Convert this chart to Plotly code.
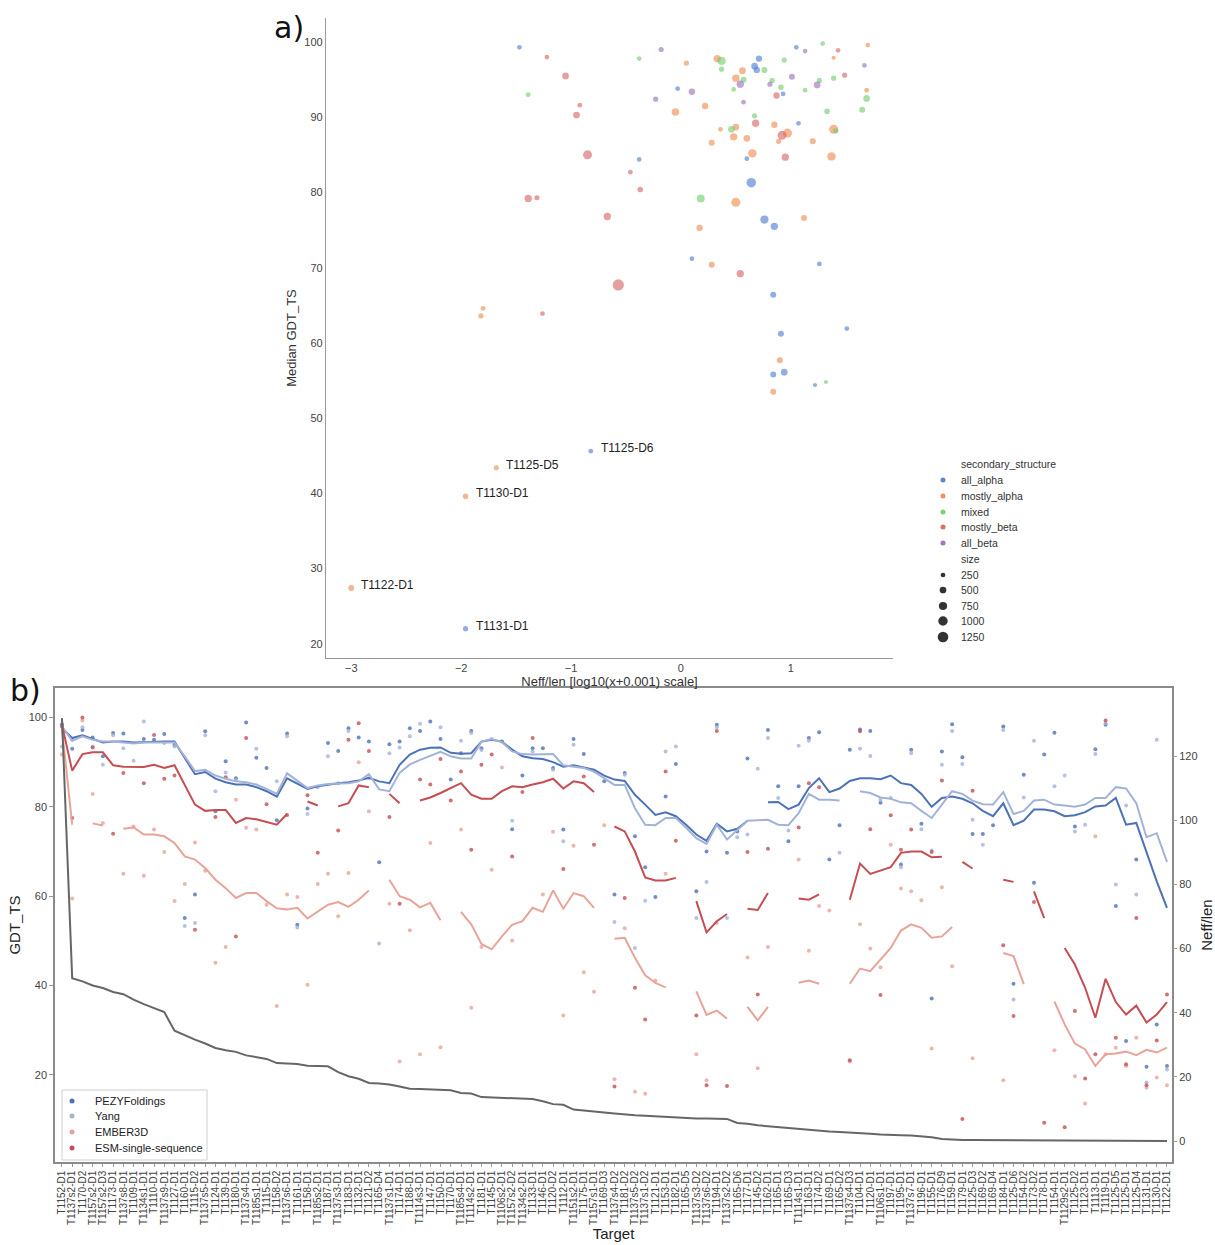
import math
import plotly.graph_objects as go

W, H = 1215, 1245
def px(x): return x / W
def py(y): return 1 - y / H

# ---------------- Panel a data ----------------
ss_order = ["all_alpha", "mostly_alpha", "mixed", "mostly_beta", "all_beta"]
ss_colors = {"all_alpha": "#4878d0", "mostly_alpha": "#ee854a", "mixed": "#6acc64",
             "mostly_beta": "#d65f5f", "all_beta": "#956cb4"}

neff_log = [-1.47, -1.22, -1.05, -1.39, -0.92, -0.95, -0.85, -0.38, -0.46, -0.37,
            -1.39, -1.31, -0.67, -0.57, -1.80, -1.82, -1.26, -0.38, -0.18, -0.23,
            0.05, -0.03, 0.10, -0.05, 0.22, 0.33, 0.37, 0.37, 0.50, 0.56,
            0.57, 0.54, 0.48, 0.57, 0.67, 0.69, 0.71, 0.76, 0.81, 0.83,
            0.91, 0.93, 0.87, 0.94, 1.01, 1.05, 1.13, 1.29, 1.43, 1.39,
            1.26, 1.24, 1.13, 1.39, 1.49, 1.67, 1.70, 1.69, 1.69, 1.65,
            1.33, 0.67, 0.68, 0.85, 1.07, 0.36, 0.46, 0.50, 0.48, 0.60,
            0.92, 0.97, 0.89, 0.28, 1.20, 1.39, 1.41, 0.65, 0.60, 0.95,
            1.37, 0.64, 0.18, 0.50, 0.76, 0.85, 0.17, 1.12, 0.10, 0.28,
            0.54, 1.26, 0.84, 0.91, 1.51, 0.90, 0.84, 0.94, 0.84, 1.22,
            1.32, -0.82, -1.68, -1.96, -3.00, -1.96]
median_gdt = [99.3, 98.0, 95.5, 93.0, 91.6, 90.3, 85.0, 84.4, 82.7, 80.4,
              79.2, 79.3, 76.8, 67.7, 64.6, 63.6, 63.9, 97.8, 99.0, 92.4,
              97.2, 93.8, 93.4, 90.7, 91.5, 97.8, 97.5, 96.4, 95.2, 96.2,
              95.0, 94.4, 93.7, 92.0, 96.8, 96.3, 97.8, 96.3, 94.4, 94.9,
              94.0, 93.1, 92.9, 97.6, 95.4, 99.3, 98.8, 99.8, 98.9, 97.9,
              94.9, 94.3, 93.6, 95.2, 95.6, 96.9, 99.6, 93.6, 92.5, 91.0,
              90.8, 90.2, 89.2, 89.0, 89.2, 88.4, 88.4, 88.7, 87.4, 87.2,
              87.6, 87.9, 86.8, 86.6, 86.8, 88.4, 88.2, 85.2, 84.5, 84.7,
              84.8, 81.3, 79.2, 78.7, 76.4, 75.5, 75.3, 76.6, 71.2, 70.4,
              69.2, 70.5, 66.4, 61.2, 61.9, 57.7, 55.8, 56.1, 53.5, 54.4,
              54.8, 45.6, 43.4, 39.6, 27.4, 22.0]
sec_struct = ["all_alpha", "mostly_beta", "mostly_beta", "mixed", "mostly_beta", "mostly_beta", "mostly_beta", "all_alpha", "mostly_beta", "mostly_beta",
              "mostly_beta", "mostly_beta", "mostly_beta", "mostly_beta", "mostly_alpha", "mostly_alpha", "mostly_beta", "mixed", "all_beta", "all_beta",
              "mostly_alpha", "all_alpha", "all_beta", "mostly_alpha", "mostly_alpha", "mostly_alpha", "mixed", "mixed", "mostly_alpha", "mostly_alpha",
              "mixed", "all_beta", "mixed", "all_beta", "all_alpha", "all_alpha", "all_alpha", "mixed", "all_beta", "mixed",
              "mixed", "all_alpha", "mostly_beta", "mixed", "all_beta", "all_alpha", "all_beta", "mixed", "mostly_beta", "mostly_alpha",
              "mixed", "all_beta", "mixed", "mixed", "mostly_beta", "all_beta", "mostly_alpha", "mostly_alpha", "mixed", "mixed",
              "mixed", "mixed", "mostly_beta", "mostly_alpha", "all_alpha", "mostly_alpha", "mixed", "mostly_alpha", "mostly_alpha", "mostly_alpha",
              "mostly_beta", "mostly_alpha", "mostly_alpha", "mostly_alpha", "mostly_alpha", "mostly_alpha", "mixed", "mostly_alpha", "all_alpha", "mostly_beta",
              "mostly_alpha", "all_alpha", "mixed", "mostly_alpha", "all_alpha", "all_alpha", "mostly_alpha", "mostly_alpha", "all_alpha", "mostly_alpha",
              "mostly_beta", "all_alpha", "all_alpha", "all_alpha", "all_alpha", "mostly_alpha", "all_alpha", "all_alpha", "mostly_alpha", "all_alpha",
              "mixed", "all_alpha", "mostly_alpha", "mostly_alpha", "mostly_alpha", "all_alpha"]
dom_size = [250, 250, 500, 250, 250, 500, 900, 250, 250, 350,
            600, 300, 600, 1400, 250, 300, 250, 250, 300, 300,
            300, 250, 450, 650, 450, 600, 800, 300, 600, 500,
            400, 600, 250, 250, 500, 450, 450, 400, 300, 300,
            350, 250, 450, 300, 400, 250, 250, 250, 250, 200,
            300, 500, 250, 300, 300, 250, 250, 250, 500, 400,
            350, 300, 600, 450, 250, 250, 500, 500, 600, 500,
            900, 900, 300, 400, 400, 900, 300, 800, 250, 600,
            800, 1000, 700, 900, 750, 600, 450, 400, 250, 400,
            600, 250, 400, 400, 250, 400, 400, 500, 400, 200,
            200, 250, 300, 350, 400, 300]
point_labels = [""] * 101 + ["T1125-D6", "T1125-D5", "T1130-D1", "T1122-D1", "T1131-D1"]

legend_sizes = [250, 500, 750, 1000, 1250]

# ---------------- Panel b data ----------------
targets = ["T1152-D1", "T1137s2-D1", "T1170-D2", "T1157s2-D1", "T1157s2-D3", "T1173-D1", "T1137s8-D1", "T1109-D1", "T1134s1-D1", "T1110-D1",
           "T1137s9-D1", "T1127-D1", "T1160-D1", "T1115-D2", "T1137s5-D1", "T1124-D1", "T1139-D1", "T1180-D1", "T1137s4-D1", "T1185s1-D1",
           "T1115-D1", "T1158-D2", "T1137s6-D1", "T1161-D1", "T1158-D1", "T1185s2-D1", "T1187-D1", "T1137s3-D1", "T1183-D1", "T1132-D1",
           "T1121-D2", "T1165-D4", "T1137s1-D1", "T1174-D1", "T1188-D1", "T1114s3-D1", "T1147-D1", "T1150-D1", "T1170-D1", "T1185s4-D1",
           "T1114s2-D1", "T1181-D1", "T1145-D1", "T1106s2-D1", "T1157s2-D2", "T1134s2-D1", "T1133-D1", "T1146-D1", "T1120-D2", "T1112-D1",
           "T1151s2-D1", "T1175-D1", "T1157s1-D1", "T1169-D3", "T1137s4-D2", "T1181-D2", "T1137s5-D2", "T1137s1-D2", "T1121-D1", "T1153-D1",
           "T1182-D1", "T1165-D5", "T1137s3-D2", "T1137s6-D2", "T1194-D1", "T1137s2-D2", "T1165-D6", "T1177-D1", "T1145-D2", "T1162-D1",
           "T1165-D1", "T1165-D3", "T1114s1-D1", "T1163-D1", "T1174-D2", "T1169-D1", "T1165-D2", "T1137s4-D3", "T1104-D1", "T1120-D1",
           "T1106s1-D1", "T1197-D1", "T1195-D1", "T1137s7-D1", "T1196-D1", "T1155-D1", "T1176-D9", "T1159-D1", "T1179-D1", "T1125-D3",
           "T1169-D2", "T1169-D4", "T1184-D1", "T1125-D6", "T1154-D2", "T1173-D2", "T1178-D1", "T1154-D1", "T1129s2-D1", "T1125-D2",
           "T1123-D1", "T1113-D1", "T1119-D1", "T1125-D5", "T1125-D1", "T1125-D4", "T1131-D1", "T1130-D1", "T1122-D1"]

N = None
pezy_pts = [98.5, 93.0, 97.2, 95.5, 91.3, 96.5, 96.4, N, 95.2, 95.0,
            96.3, 93.9, 55.1, 60.4, 96.9, 79.0, 90.2, 86.4, 98.9, 91.0,
            88.7, 77.0, 96.4, 53.6, 79.6, N, 94.3, 92.5, 97.6, 95.5,
            94.6, 67.6, 94.0, 94.6, 97.6, 97.0, 99.1, 95.2, 86.1, 92.0,
            97.0, 93.1, N, 94.6, 75.0, 87.0, 93.1, 93.1, 88.7, 74.9,
            95.2, 91.8, N, 85.7, 60.4, 87.6, 73.4, 66.5, 59.8, 82.3,
            89.6, N, 61.1, 70.0, 98.4, 69.7, 74.5, 90.8, N, 97.2,
            84.6, 72.3, 84.6, 95.4, 96.7, 68.2, 75.9, 92.8, 97.3, 97.0,
            80.9, N, 67.1, 92.8, 76.2, 37.1, 92.4, 98.5, 91.1, 73.9,
            73.9, 75.9, 98.0, 40.4, 87.2, 63.0, 91.7, 96.6, N, 75.6,
            N, 92.9, 98.4, 57.8, 27.6, 68.2, 21.8, 31.3, 22.0]
yang_pts = [93.5, 95.0, 97.8, 93.5, 89.4, 96.0, 93.1, 90.3, 99.1, N,
            94.3, 93.5, 53.3, 54.0, 96.0, 83.5, 87.7, 86.0, N, 93.0,
            N, 85.7, 95.8, 53.0, 78.4, 84.4, 91.3, 85.3, 97.0, N,
            86.4, 49.4, 92.0, 93.3, 95.8, 98.6, N, 97.8, N, 94.8,
            96.5, 92.7, 95.2, N, 76.9, N, 92.4, N, 88.3, 72.3,
            93.9, N, 88.1, N, 54.2, 87.2, 48.4, 59.0, N, 92.4,
            93.5, N, 55.1, 63.2, 97.8, 55.1, 73.2, 73.8, 88.5, 95.4,
            82.0, 74.7, 93.7, 94.8, N, N, 69.7, N, 93.0, 91.4,
            81.6, 82.0, 66.5, 92.0, 75.0, 70.2, 89.4, 97.0, 89.6, 77.1,
            71.5, N, 97.2, 36.9, 82.1, 94.8, N, 84.6, 87.0, 74.5,
            76.0, 91.8, 98.7, 62.6, 80.3, 60.4, 18.3, 95.0, 21.2]
ember_pts = [91.7, 59.5, 99.3, 82.9, 76.4, N, 65.0, 75.6, 64.6, 74.9,
             69.9, 58.9, 62.7, 72.0, 65.7, 45.1, 48.6, 81.6, 75.3, 74.9,
             58.1, 35.4, 60.4, 59.8, 40.2, 62.7, 65.0, 55.5, 65.2, 90.0,
             79.0, N, 58.3, 23.0, 52.4, 24.6, 71.9, 26.2, N, 74.9,
             35.0, 48.6, 65.9, 88.8, 50.1, N, N, 60.4, 74.4, 33.3,
             71.3, 43.0, 38.6, 75.9, 19.0, 52.8, 16.2, 15.8, 41.1, 65.0,
             N, N, 24.6, 18.8, 54.0, N, N, 46.3, 21.5, 48.6,
             N, N, 68.2, 47.8, 57.8, 56.8, N, 23.0, 53.7, 48.3,
             44.1, 71.5, 61.7, 61.1, 59.1, 25.9, 62.0, 44.3, N, 23.7,
             N, N, 18.8, N, N, N, N, 25.5, N, 19.7,
             13.6, 73.4, 24.6, 26.1, 22.0, 28.3, 17.1, 19.4, 17.7]
esm_pts = [98.0, 77.5, 100.0, 93.3, N, 74.0, 87.6, N, 85.3, 96.1,
           86.3, 87.0, N, 52.5, N, 77.7, 86.6, 51.0, 95.4, N,
           80.6, N, 78.2, N, 82.6, 69.7, N, 74.7, 95.0, 98.7,
           92.5, N, 77.7, 58.3, N, 86.1, 85.0, 90.7, 81.4, 87.9,
           70.4, 89.4, 91.7, N, 68.9, 83.3, 95.4, N, N, 66.1,
           N, 86.8, 71.5, N, 17.4, 59.6, 39.5, 32.4, N, 87.9,
           72.4, N, 33.3, 17.7, 97.0, 17.5, N, 69.9, 38.0, 70.6,
           N, N, 75.4, 85.3, 84.4, N, N, 23.3, 96.9, 75.0,
           37.9, 78.1, 70.4, 74.9, N, 69.9, 85.9, N, 10.1, 83.6,
           N, N, 49.0, 33.2, N, 58.7, 9.3, N, 8.3, 34.3,
           19.2, 24.6, 99.3, 28.3, 22.4, 55.1, 17.7, 27.7, 38.0]

pezy_trend = [97.6, 95.4, 96.0, 95.2, 94.4, 94.6, 94.6, 94.4, 94.5, 94.6,
              94.6, 94.6, 90.9, 87.3, 87.8, 86.3, 85.5, 85.0, 85.0, 84.4,
              83.5, 82.3, 86.4, 85.2, 84.0, 84.6, 85.0, 85.3, 85.5, 85.9,
              86.5, 85.7, 85.3, 89.4, 91.7, 92.8, 93.2, 93.3, 92.1, 91.9,
              92.0, 94.6, 95.0, 94.6, 92.8, 91.3, 90.9, 90.7, 90.0, 89.0,
              89.3, 88.8, 88.3, 87.0, 86.1, 85.8, 82.7, 80.5, 78.2, 78.8,
              77.9, 76.0, 73.8, 72.4, 76.2, 74.5, 75.1, 76.9, N, 81.0,
              81.1, 79.5, 80.5, 84.2, 86.4, 83.3, 84.1, 85.8, 86.4, 86.4,
              86.2, 87.0, 85.3, 84.9, 82.9, 80.0, 82.0, 82.3, 81.8, 80.8,
              79.1, 77.9, 80.8, 75.9, 76.9, 79.4, 79.4, 79.0, 77.9, 78.1,
              78.8, 80.1, 80.3, 82.0, 76.0, 76.4, 70.0, 63.3, 57.4]
yang_trend = [98.0, 94.8, 95.8, 95.0, 94.6, 94.6, 94.4, 94.2, 94.4, 94.4,
              94.4, 94.4, 91.3, 88.0, 88.3, 87.0, 86.3, 85.7, 85.5, 85.0,
              84.0, 82.9, 87.5, 85.9, 84.2, 84.8, 85.1, 85.2, 85.3, 85.7,
              87.3, 83.9, 83.5, 87.6, 89.5, 90.5, 91.4, 92.3, 91.3, 90.8,
              90.8, 94.6, 95.2, 94.5, 92.4, 91.8, 91.7, 91.7, 91.8, 89.3,
              89.0, 88.7, 87.9, 86.4, 84.9, 84.9, 79.7, 76.0, 75.9, 77.5,
              77.5, 75.3, 73.0, 71.7, 76.0, 72.7, 74.9, 76.9, 77.0, 77.1,
              76.0, 75.9, 78.6, 82.9, 81.6, 81.6, 81.4, N, 83.5, 83.1,
              82.1, 81.8, 81.0, 80.8, 79.1, 77.5, 80.5, 83.5, 82.9, 81.4,
              80.6, 80.5, 83.3, 78.4, 79.1, 81.4, 81.6, 80.5, 80.3, 80.0,
              80.5, 82.0, 82.0, 84.4, 84.1, 80.8, 73.2, 74.1, 67.7]
ember_trend = [97.5, 76.0, N, 76.3, 75.8, N, 75.1, 75.4, 73.8, 73.8,
               73.4, 71.9, 68.9, 68.2, 66.3, 63.7, 61.8, 59.6, 60.7, 60.7,
               58.9, 57.3, 57.0, 57.4, 55.0, 56.6, 58.1, 58.7, 57.6, 59.2,
               61.3, N, 63.7, 60.0, 59.2, 57.5, 58.5, 54.6, N, 56.5,
               53.7, 49.3, 48.1, 51.0, 53.6, 54.4, 57.4, 56.5, 61.3, 57.2,
               60.7, 60.0, 57.4, N, 50.5, 50.7, 46.2, 42.3, 40.6, 39.6,
               N, N, 38.7, 33.4, 34.4, 32.6, N, 35.2, 32.2, 35.2,
               N, N, 40.6, 41.1, 40.4, N, N, 40.4, 43.8, 43.2,
               45.8, 48.4, 52.3, 53.7, 52.9, 50.7, 51.0, 53.1, N, N,
               N, N, 47.3, 46.6, 40.3, N, N, 36.4, 31.3, 27.0,
               25.7, 22.0, 24.6, 24.8, 25.2, 24.4, 25.6, 25.0, 26.1]
esm_trend = [98.4, 88.1, 91.8, 92.2, 92.2, 89.3, 89.0, 89.0, 88.9, 89.4,
             88.7, 89.3, 84.8, 80.5, 79.1, 79.3, 79.3, 76.4, 77.5, 77.2,
             76.6, 76.0, 78.4, N, 81.2, 80.3, N, 80.1, 80.8, 84.8,
             84.4, N, 82.9, 80.8, N, 81.4, 82.1, 83.1, 84.2, 85.3,
             82.7, 81.8, 81.8, 83.5, 84.6, 84.4, 85.0, 85.5, 86.3, 84.1,
             85.7, 85.3, 83.3, N, 75.6, 74.5, 70.0, 64.2, 63.5, 63.5,
             64.1, N, 58.9, 51.9, 54.4, 56.0, N, 57.2, 56.9, 60.7,
             N, N, 59.5, 59.2, 60.4, N, N, 59.2, 67.3, 65.0,
             65.7, 66.5, 69.7, 70.0, 70.0, 68.7, 68.8, N, 67.7, 66.2,
             N, N, 63.7, 63.2, N, 61.1, 55.1, N, 48.4, 44.7,
             39.5, 32.8, 41.5, 36.3, 33.5, 35.5, 31.7, 33.5, 36.3]
neff_len = [131.9, 50.8, 49.8, 48.5, 47.7, 46.5, 45.8, 44.1, 42.7, 41.5,
            40.2, 34.4, 32.9, 31.6, 30.4, 29.0, 28.3, 27.8, 26.7, 26.1,
            25.6, 24.3, 24.1, 24.0, 23.5, 23.3, 23.3, 21.5, 20.2, 19.4,
            18.1, 17.9, 17.6, 17.0, 16.3, 16.2, 16.0, 15.8, 15.8, 15.0,
            14.8, 13.7, 13.6, 13.6, 13.4, 13.3, 13.1, 12.4, 11.5, 11.3,
            9.8, 9.5, 9.3, 8.9, 8.6, 8.2, 8.0, 7.9, 7.7, 7.4,
            7.3, 7.2, 7.0, 7.0, 7.0, 6.9, 5.6, 5.4, 4.9, 4.6,
            4.3, 4.1, 3.8, 3.5, 3.3, 3.0, 2.8, 2.7, 2.5, 2.3,
            2.0, 1.8, 1.8, 1.7, 1.5, 1.2, 0.6, 0.4, 0.3, 0.28,
            0.26, 0.24, 0.22, 0.2, 0.18, 0.16, 0.14, 0.12, 0.1, 0.09,
            0.08, 0.07, 0.06, 0.05, 0.04, 0.03, 0.02, 0.01, 0.0]

methods = ["PEZYFoldings", "Yang", "EMBER3D", "ESM-single-sequence"]
method_colors = ["#4c72b8", "#a3b3d8", "#e8a498", "#c44e52"]
method_pts = [pezy_pts, yang_pts, ember_pts, esm_pts]
method_trend = [pezy_trend, yang_trend, ember_trend, esm_trend]

FONT = "Liberation Sans, Arial, sans-serif"
fig = go.Figure()

def msize(s):
    return 0.3 * math.sqrt(s)

# Panel a scatter
for cat in ss_order:
    idx = [k for k, c in enumerate(sec_struct) if c == cat]
    fig.add_trace(go.Scatter(
        x=[neff_log[k] for k in idx], y=[median_gdt[k] for k in idx],
        mode="markers", xaxis="x", yaxis="y", showlegend=False,
        marker=dict(color=ss_colors[cat], size=[msize(dom_size[k]) for k in idx],
                    opacity=0.6, line=dict(width=0))))

annotations = []
for k, lab in enumerate(point_labels):
    if lab:
        annotations.append(dict(x=neff_log[k], y=median_gdt[k], xref="x", yref="y", text=lab,
                                showarrow=False, xanchor="left", xshift=8, yshift=3,
                                font=dict(family=FONT, size=12, color="#222")))

# Panel b
xs = list(range(len(targets)))
for name, col, pts in zip(methods, method_colors, method_pts):
    fig.add_trace(go.Scatter(x=xs, y=pts, mode="markers", xaxis="x2", yaxis="y2", showlegend=False,
                             marker=dict(color=col, size=4, opacity=0.8, line=dict(width=0))))
fig.add_trace(go.Scatter(x=xs, y=neff_len, mode="lines", xaxis="x2", yaxis="y3", showlegend=False,
                         line=dict(color="#666666", width=2)))
for name, col, tr in zip(methods, method_colors, method_trend):
    fig.add_trace(go.Scatter(x=xs, y=tr, mode="lines", xaxis="x2", yaxis="y2", showlegend=False,
                             line=dict(color=col, width=2)))

shapes = []
def dot(xp, yp, d, color, op=1.0):
    shapes.append(dict(type="circle", xref="paper", yref="paper", xsizemode="pixel", ysizemode="pixel",
                       xanchor=px(xp), yanchor=py(yp), x0=-d / 2, x1=d / 2, y0=-d / 2, y1=d / 2,
                       fillcolor=color, opacity=op, line=dict(width=0)))

def label(xp, yp, text, size=10.5, color="#333"):
    annotations.append(dict(x=px(xp), y=py(yp), xref="paper", yref="paper", text=text, showarrow=False,
                            xanchor="left", yanchor="middle", font=dict(family=FONT, size=size, color=color)))

# Panel a legend
label(959, 464, "secondary_structure")
ys = [480, 496, 512, 527, 543]
for cat, yy in zip(ss_order, ys):
    dot(943, yy, 5, ss_colors[cat], 0.9)
    label(959, yy, cat)
label(959, 559, "size")
for s, yy in zip(legend_sizes, [575, 590, 606, 621, 637]):
    dot(943, yy, msize(s), "#333333")
    label(959, yy, str(s))

# Panel b legend
shapes.append(dict(type="rect", xref="paper", yref="paper", x0=px(62), x1=px(207), y0=py(1160), y1=py(1090),
                   line=dict(color="#d0d0d0", width=1), fillcolor="white", layer="above"))
for name, col, yy in zip(methods, method_colors, [1101, 1116, 1132, 1148]):
    dot(72, yy, 5, col)
    label(93, yy, name, size=11, color="#222")

annotations.append(dict(x=px(272), y=py(28), xref="paper", yref="paper", text="a)", showarrow=False,
                        xanchor="left", yanchor="middle", font=dict(family="DejaVu Sans", size=30, color="#111")))
annotations.append(dict(x=px(8), y=py(690), xref="paper", yref="paper", text="b)", showarrow=False,
                        xanchor="left", yanchor="middle", font=dict(family="DejaVu Sans", size=30, color="#111")))

tickf = dict(family=FONT, size=11, color="#444")
fig.update_layout(
    width=W, height=H, margin=dict(l=0, r=0, t=0, b=0),
    paper_bgcolor="white", plot_bgcolor="white",
    font=dict(family=FONT),
    xaxis=dict(domain=[px(326), px(893)], range=[-3.23, 1.93], anchor="y",
               showline=True, linecolor="#9a9a9a", linewidth=1.3, showgrid=False, zeroline=False,
               tickvals=[-3, -2, -1, 0, 1], ticks="", tickfont=tickf, automargin=False,
               title=dict(text="Neff/len [log10(x+0.001) scale]", font=dict(family=FONT, size=13, color="#333"), standoff=3)),
    yaxis=dict(domain=[py(658), py(18)], range=[18.1, 103.2], anchor="x",
               showline=True, linecolor="#9a9a9a", linewidth=1.3, showgrid=False, zeroline=False,
               tickvals=[20, 30, 40, 50, 60, 70, 80, 90, 100], ticks="", tickfont=tickf, automargin=False,
               title=dict(text="Median GDT_TS", font=dict(family=FONT, size=13, color="#333"), standoff=4)),
    xaxis2=dict(domain=[px(55), px(1172)], range=[-0.68, 108.49], anchor="y2",
                tickmode="array", tickvals=xs, ticktext=targets, tickangle=-90,
                tickfont=dict(family=FONT, size=10, color="#444"), ticks="outside", ticklen=3, tickcolor="#999",
                showline=True, mirror=True, linecolor="#8a8a8a", linewidth=1.5, showgrid=False, zeroline=False,
                automargin=False,
                title=dict(text="Target", font=dict(family=FONT, size=15, color="#222"), standoff=2)),
    yaxis2=dict(domain=[py(1162), py(688)], range=[0.5, 106.6], anchor="x2",
                tickvals=[20, 40, 60, 80, 100], ticks="outside", ticklen=4, tickcolor="#999", tickfont=tickf,
                showline=True, mirror=True, linecolor="#8a8a8a", linewidth=1.5, showgrid=False, zeroline=False,
                automargin=False,
                title=dict(text="GDT_TS", font=dict(family=FONT, size=15, color="#222"), standoff=4)),
    yaxis3=dict(overlaying="y2", side="right", anchor="x2", range=[-6.55, 141.3],
                tickvals=[0, 20, 40, 60, 80, 100, 120], ticks="outside", ticklen=4, tickcolor="#999", tickfont=tickf,
                showgrid=False, zeroline=False, automargin=False,
                title=dict(text="Neff/len", font=dict(family=FONT, size=15, color="#222"), standoff=4)),
    shapes=shapes, annotations=annotations,
)

fig.write_html("out.html", config={"displayModeBar": False},
               post_script="document.body.style.margin='0px';document.body.style.overflow='hidden';")
